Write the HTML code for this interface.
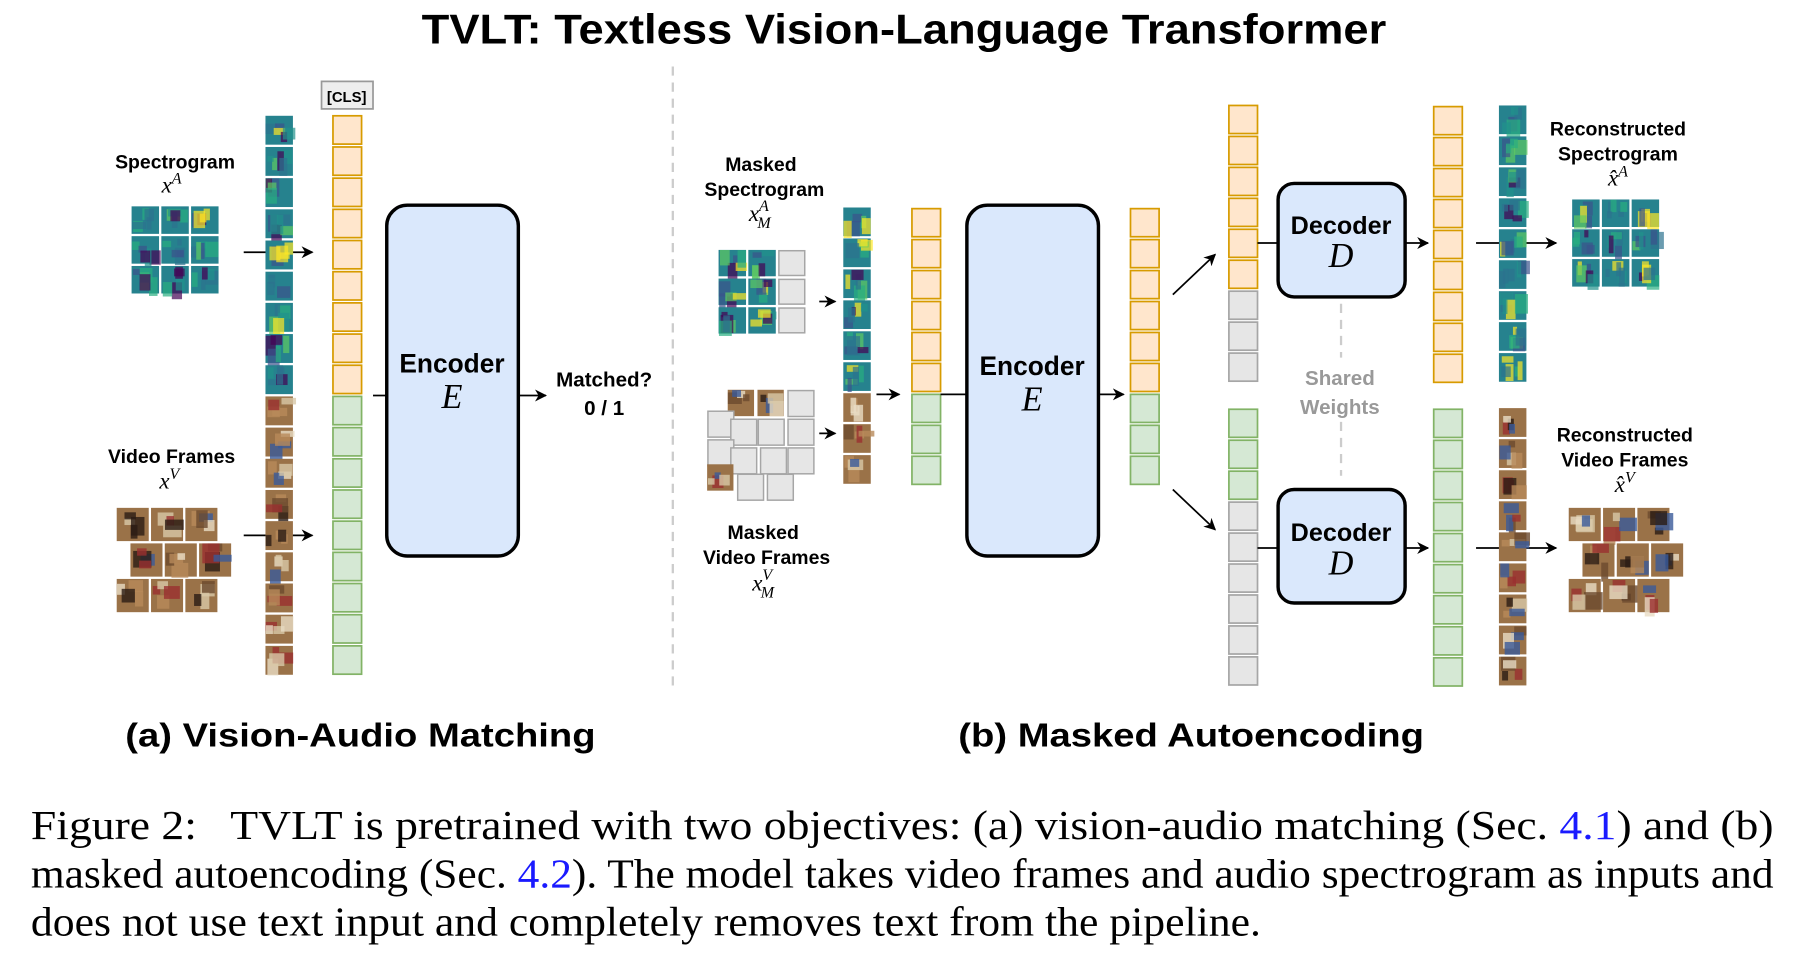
<!DOCTYPE html>
<html><head><meta charset="utf-8"><style>
html,body{margin:0;padding:0;background:#fff;}
svg{display:block;}
.t{font-family:"Liberation Sans",Arial,sans-serif;font-weight:bold;fill:#000;}
.m{font-family:"Liberation Serif",serif;font-style:italic;fill:#000;}
.c{font-family:"Liberation Serif",serif;fill:#000;}
</style></head><body>
<svg id="s" width="1793" height="971" viewBox="0 0 1567 847" preserveAspectRatio="none" xmlns="http://www.w3.org/2000/svg">
<defs>
<marker id="ah" viewBox="0 0 10 10" refX="9" refY="5" markerWidth="7" markerHeight="7" orient="auto"><path d="M0,0 L10,5 L0,10 L3,5 z" fill="#000"/></marker>
</defs>
<g id="g"></g>
<text class="t" x="790" y="38" font-size="36" text-anchor="middle" textLength="843" lengthAdjust="spacingAndGlyphs">TVLT: Textless Vision-Language Transformer</text>
<line x1="588" y1="58" x2="588" y2="600" stroke="#ccc" stroke-width="2" stroke-dasharray="8,6"/>
<text class="t" x="153" y="147" font-size="17" text-anchor="middle">Spectrogram</text>
<text class="m" x="150" y="168" font-size="20" text-anchor="middle">x<tspan font-size="14" dy="-8">A</tspan></text>
<text class="t" x="150" y="404" font-size="17" text-anchor="middle">Video Frames</text>
<text class="m" x="148" y="426" font-size="20" text-anchor="middle">x<tspan font-size="14" dy="-8">V</tspan></text>
<rect x="281" y="71" width="45" height="24" fill="#eee" stroke="#999" stroke-width="1.5"/>
<text class="t" x="303" y="89" font-size="13" text-anchor="middle">[CLS]</text>
<text class="t" x="528" y="337" font-size="18" text-anchor="middle">Matched?</text>
<text class="t" x="528" y="362" font-size="18" text-anchor="middle">0 / 1</text>
<text class="t" x="665" y="149" font-size="17" text-anchor="middle">Masked</text>
<text class="t" x="668" y="171" font-size="17" text-anchor="middle">Spectrogram</text>
<text class="m" x="664" y="193" font-size="20" text-anchor="middle">x<tspan font-size="14" dy="-9">A</tspan><tspan font-size="14" dx="-10" dy="15">M</tspan></text>
<text class="t" x="667" y="470" font-size="17" text-anchor="middle">Masked</text>
<text class="t" x="670" y="492" font-size="17" text-anchor="middle">Video Frames</text>
<text class="m" x="667" y="515" font-size="20" text-anchor="middle">x<tspan font-size="14" dy="-9">V</tspan><tspan font-size="14" dx="-10" dy="15">M</tspan></text>
<text class="t" x="1414" y="118" font-size="17" text-anchor="middle">Reconstructed</text>
<text class="t" x="1414" y="140" font-size="17" text-anchor="middle">Spectrogram</text>
<text class="m" x="1414" y="162" font-size="20" text-anchor="middle">x̂<tspan font-size="14" dy="-8">A</tspan></text>
<text class="t" x="1420" y="385" font-size="17" text-anchor="middle">Reconstructed</text>
<text class="t" x="1420" y="407" font-size="17" text-anchor="middle">Video Frames</text>
<text class="m" x="1420" y="429" font-size="20" text-anchor="middle">x̂<tspan font-size="14" dy="-8">V</tspan></text>
<text x="1171" y="336" font-size="18" text-anchor="middle" font-family="Liberation Sans, sans-serif" font-weight="bold" fill="#999">Shared</text>
<text x="1171" y="361" font-size="18" text-anchor="middle" font-family="Liberation Sans, sans-serif" font-weight="bold" fill="#999">Weights</text>
<line x1="1172" y1="265" x2="1172" y2="312" stroke="#ccc" stroke-width="2" stroke-dasharray="8,6"/>
<line x1="1172" y1="368" x2="1172" y2="415" stroke="#ccc" stroke-width="2" stroke-dasharray="8,6"/>
<text class="t" x="315" y="651" font-size="29" text-anchor="middle" textLength="411" lengthAdjust="spacingAndGlyphs">(a) Vision-Audio Matching</text>
<text class="t" x="1041" y="651" font-size="29" text-anchor="middle" textLength="407" lengthAdjust="spacingAndGlyphs">(b) Masked Autoencoding</text>
<text class="c" x="27" y="732" font-size="36" textLength="1523" lengthAdjust="spacingAndGlyphs">Figure 2:&#160;&#160; TVLT is pretrained with two objectives: (a) vision-audio matching (Sec. <tspan fill="#1a1aff">4.1</tspan>) and (b)</text>
<text class="c" x="27" y="774" font-size="36" textLength="1523" lengthAdjust="spacingAndGlyphs">masked autoencoding (Sec. <tspan fill="#1a1aff">4.2</tspan>). The model takes video frames and audio spectrogram as inputs and</text>
<text class="c" x="27" y="816" font-size="36" textLength="1075" lengthAdjust="spacingAndGlyphs">does not use text input and completely removes text from the pipeline.</text>
</svg>
<script>
var NS="http://www.w3.org/2000/svg",G=document.getElementById("g");
var seed=7;function r(){seed=(seed*9301+49297)%233280;return seed/233280;}
function el(n,a){var e=document.createElementNS(NS,n);for(var k in a)e.setAttribute(k,a[k]);G.appendChild(e);return e;}
var SP=["#3b528b","#2c728e","#21918c","#28ae80","#5ec962","#fde725","#440154"];
function spec(x,y,w,h){el("rect",{x:x,y:y,width:w,height:h,fill:"#26828e"});
for(var i=0;i<5;i++){var c=SP[Math.floor(r()*SP.length)];el("rect",{x:x+r()*w*0.7,y:y+r()*h*0.6,width:w*(0.15+r()*0.35),height:h*(0.2+r()*0.5),fill:c,opacity:0.7});}}
var VP=["#2a1c14","#d8c8a8","#b88a5a","#6b4a2e","#e8dcc4","#3a5a9a","#9a3030"];
function vid(x,y,w,h){el("rect",{x:x,y:y,width:w,height:h,fill:"#9a7248"});
for(var i=0;i<4;i++){var c=VP[Math.floor(r()*VP.length)];el("rect",{x:x+r()*w*0.6,y:y+r()*h*0.6,width:w*(0.2+r()*0.4),height:h*(0.2+r()*0.4),fill:c,opacity:0.8});}}
function gray(x,y,w,h){el("rect",{x:x+0.7,y:y+0.7,width:w-1.4,height:h-1.4,fill:"#e6e6e6",stroke:"#a6a6a6","stroke-width":1.3});}
var ST={o:["#ffe6cc","#d79b00"],g:["#d5e8d4","#82b366"],x:["#e6e6e6","#a6a6a6"]};
function col(x,y,seq,p){for(var i=0;i<seq.length;i++){var s=ST[seq[i]];el("rect",{x:x,y:y+i*p+1,width:25,height:p-2.5,fill:s[0],stroke:s[1],"stroke-width":1.5});}}
function strip(x,y,seq,p){for(var i=0;i<seq.length;i++){if(seq[i]=="s")spec(x,y+i*p,24,p-2);else vid(x,y+i*p,24,p-2);}}
function ln(x1,y1,x2,y2,a){var e=el("line",{x1:x1,y1:y1,x2:x2,y2:y2,stroke:"#000","stroke-width":1.5});if(a)e.setAttribute("marker-end","url(#ah)");}
function box(x,y,w,h,rx){el("rect",{x:x,y:y,width:w,height:h,rx:rx,fill:"#dae8fc",stroke:"#000","stroke-width":3});}
function rep(c,n){return Array(n+1).join(c);}
ln(213,220,273,220,1);ln(213,467,273,467,1);
for(var i=0;i<3;i++)for(var j=0;j<3;j++)spec(115+j*26,180+i*26,24,24);
var vg=[[0,0],[1,0],[2,0],[0,1],[1,1],[2,1],[0,2],[1,2],[2,2]];
for(var k=0;k<9;k++)vid(102+vg[k][0]*30+(vg[k][1]==1?12:0),443+vg[k][1]*31,28,29);
strip(232,101,rep("s",9)+rep("v",9),27.2);
col(291,100,rep("o",9)+rep("g",9),27.2);
ln(326,345,338,345);box(338,179,115,306,18);ln(453,345,477,345,1);
for(var i=0;i<3;i++){spec(628,218+i*25,24,23);spec(654,218+i*25,24,23);gray(680,218+i*25,24,23);}
var mv=[[636,340,1],[662,340,1],[688,340,0],[618,358,0],[638,365,0],[662,365,0],[688,365,0],[618,383,0],[638,390,0],[664,390,0],[688,390,0],[618,405,1],[644,413,0],[670,413,0]];
for(var k=0;k<mv.length;k++){if(mv[k][2])vid(mv[k][0],mv[k][1],23,23);else gray(mv[k][0],mv[k][1],24,24);}
ln(716,263,730,263,1);ln(716,378,730,378,1);
strip(737,181,rep("s",6)+rep("v",3),27);
ln(766,344,786,344,1);
col(797,181,rep("o",6)+rep("g",3),27);
ln(822,344,845,344);box(845,179,115,306,18);ln(960,344,982,344,1);
col(988,181,rep("o",6)+rep("g",3),27);
ln(1025,257,1062,222,1);ln(1025,427,1062,462,1);
col(1074,91,rep("o",6)+rep("x",3),27);
col(1074,356,rep("g",3)+rep("x",6),27);
ln(1099,212,1117,212);box(1117,160,111,99,14);ln(1228,212,1248,212,1);
ln(1099,478,1117,478);box(1117,427,111,99,14);ln(1228,478,1248,478,1);
col(1253,92,rep("o",9),27);
col(1253,356,rep("g",9),27.1);
ln(1290,212,1360,212,1);ln(1290,478,1360,478,1);
strip(1310,92,rep("s",9),27);
strip(1310,356,rep("v",9),27.1);
for(var i=0;i<3;i++)for(var j=0;j<3;j++)spec(1374+j*26,174+i*26,24,24);
for(var k=0;k<9;k++)vid(1371+vg[k][0]*30+(vg[k][1]==1?12:0),443+vg[k][1]*31,28,29);
function tx(x,y,s,cls,fs){var e=document.createElementNS(NS,"text");e.setAttribute("x",x);e.setAttribute("y",y);e.setAttribute("class",cls);e.setAttribute("font-size",fs);e.setAttribute("text-anchor","middle");e.textContent=s;document.getElementById("s").appendChild(e);}
tx(395,325,"Encoder","t",23);tx(395,356,"E","m",30);
tx(902,327,"Encoder","t",23);tx(902,358,"E","m",30);
tx(1172,204,"Decoder","t",22);tx(1172,233,"D","m",30);
tx(1172,472,"Decoder","t",22);tx(1172,501,"D","m",30);
</script>
</body></html>
